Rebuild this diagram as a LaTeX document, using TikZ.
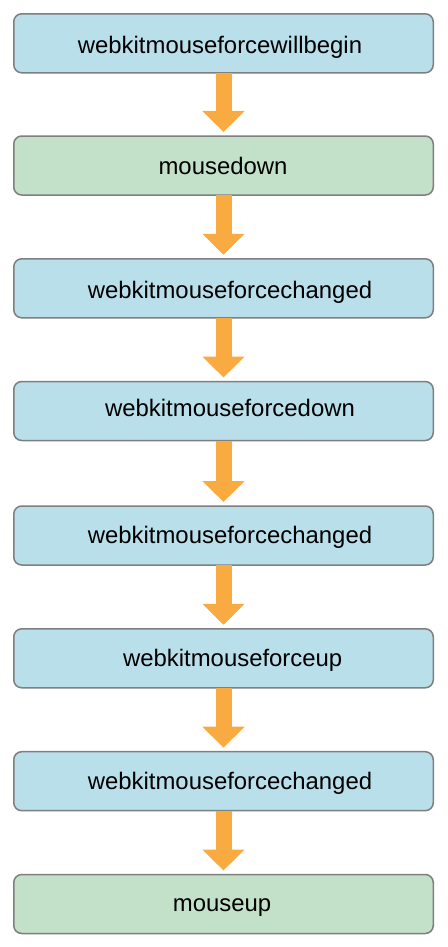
\documentclass[tikz,border=0pt]{standalone}
\usepackage{fontspec}
\setmainfont{Liberation Sans}
\usetikzlibrary{arrows.meta}
\definecolor{boxblue}{HTML}{B9DFEA}
\definecolor{boxgreen}{HTML}{C3E1C8}
\definecolor{boxline}{HTML}{7F7F7F}
\definecolor{arrowc}{HTML}{F9AB42}
\tikzset{
  evbox/.style={draw=boxline, line width=1.5pt, rounded corners=8pt,
    minimum width=419.5pt, minimum height=59pt, inner sep=0pt, outer sep=0pt},
  blue/.style={evbox, fill=boxblue},
  green/.style={evbox, fill=boxgreen},
  lbl/.style={anchor=base, inner sep=0pt, font=\fontsize{23.9}{28}\selectfont},
  flow/.style={draw=arrowc, line width=16pt,
    -{Triangle[width=41pt,length=21pt]}, shorten >=4pt}
}
\begin{document}
\begin{tikzpicture}[x=1pt,y=-1pt]
\path[use as bounding box, fill=white] (0,0) rectangle (447,947);
\node[blue]  (b1) at (223.5,43.3) {};
\node[green] (b2) at (223.5,165.5) {};
\node[blue]  (b3) at (223.5,288.3) {};
\node[blue]  (b4) at (223.5,411) {};
\node[blue]  (b5) at (223.5,535.5) {};
\node[blue]  (b6) at (223.5,658.3) {};
\node[blue]  (b7) at (223.5,781.2) {};
\node[green] (b8) at (223.5,904) {};
\node[lbl] (t1) at (220,53.3) {webkitmouseforcewillbegin};
\node[lbl] (t2) at (223,174.3) {mousedown};
\node[lbl] (t3) at (230,298.3) {webkitmouseforcechanged};
\node[lbl] (t4) at (230,416.7) {webkitmouseforcedown};
\node[lbl] (t5) at (230,543.3) {webkitmouseforcechanged};
\node[lbl] (t6) at (232.7,666) {webkitmouseforceup};
\node[lbl] (t7) at (230,789.5) {webkitmouseforcechanged};
\node[lbl] (t8) at (222,911.7) {mouseup};
\foreach \a/\b in {b1/b2,b2/b3,b3/b4,b4/b5,b5/b6,b6/b7,b7/b8}
  \draw[flow] (\a.south) -- (\b.north);
\end{tikzpicture}
\end{document}
